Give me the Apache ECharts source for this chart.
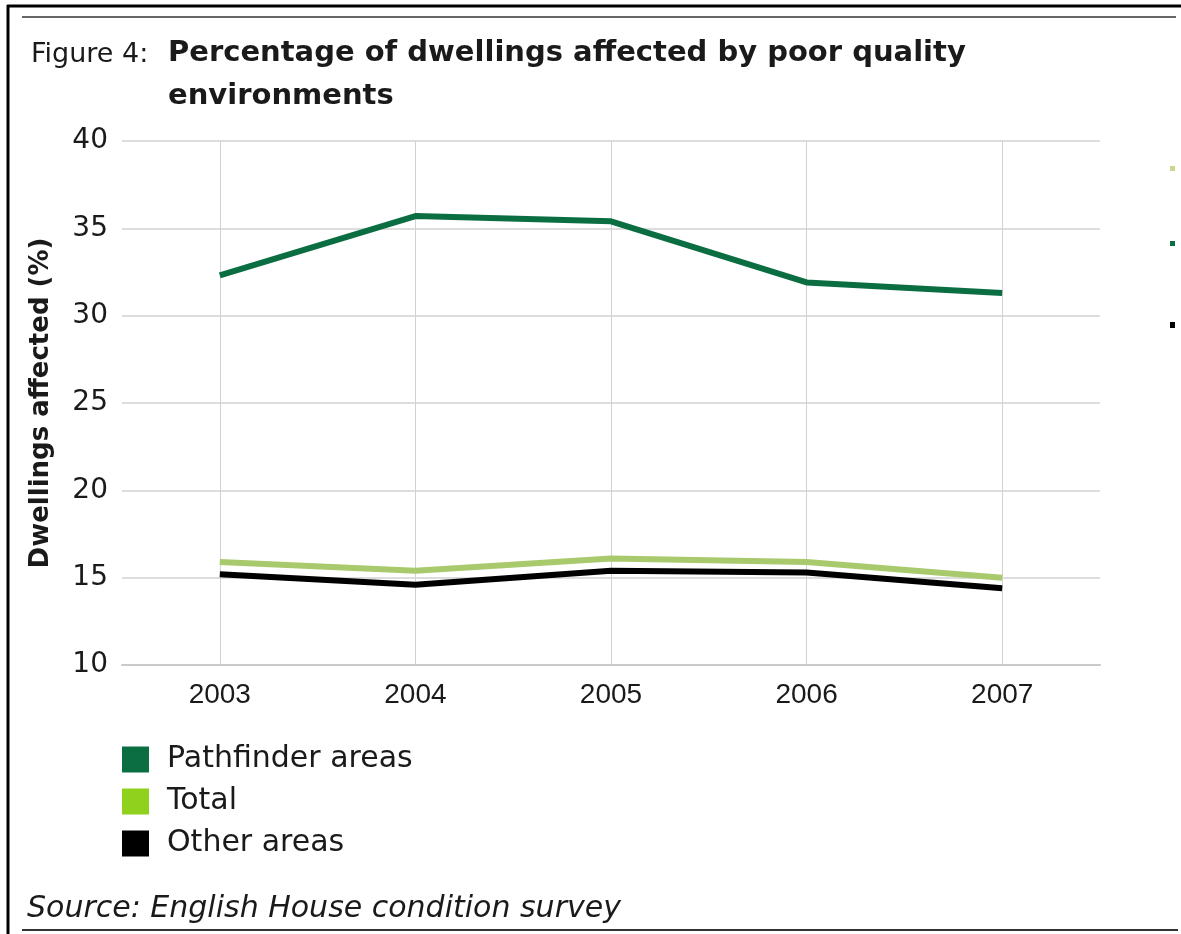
<!DOCTYPE html>
<html>
<head>
<meta charset="utf-8">
<title>Percentage of dwellings affected by poor quality environments</title>
<script src="https://cdn.jsdelivr.net/npm/echarts@6/dist/echarts.min.js"></script>
<style>
  html, body { margin: 0; padding: 0; background: #ffffff; }
  #chart { width: 1181px; height: 934px; }
</style>
</head>
<body>
<div id="chart"></div>
<script>
// Survey years on the category axis
const years = ['2003', '2004', '2005', '2006', '2007'];

// Percentage of dwellings affected, by area type
const pathfinderAreas = [32.3, 35.7, 35.4, 31.9, 31.3];
const totalAll = [15.9, 15.4, 16.1, 15.9, 15.0];
const otherAreas = [15.2, 14.6, 15.4, 15.3, 14.4];

// Value axis ticks
const yMin = 10;
const yMax = 40;
const yStep = 5;

const WIDE = '"DejaVu Sans", Verdana, sans-serif';
const FONT = '"Liberation Sans", Arial, Helvetica, sans-serif';

const chart = echarts.init(document.getElementById('chart'), null, { renderer: 'canvas' });

const option = {
  backgroundColor: '#ffffff',
  animation: false,
  title: [
    {
      text: 'Figure 4:',
      left: 26,
      top: 28,
      textStyle: { fontFamily: WIDE, fontSize: 27, fontWeight: 'normal', color: '#1a1a1a', lineHeight: 43 }
    },
    {
      text: 'Percentage of dwellings affected by poor quality\nenvironments',
      left: 163,
      top: 27,
      textStyle: { fontFamily: WIDE, fontSize: 29, fontWeight: 'bold', color: '#1a1a1a', lineHeight: 43 }
    }
  ],
  legend: {
    orient: 'vertical',
    left: 117,
    top: 737,
    icon: 'rect',
    itemWidth: 27,
    itemHeight: 26,
    itemGap: 7,
    data: ['Pathfinder areas', 'Total', 'Other areas'],
    textStyle: { fontFamily: WIDE, fontSize: 30, lineHeight: 35, color: '#1a1a1a', padding: [0, 0, 0, 13] }
  },
  grid: { left: 122, right: 81, top: 141, bottom: 269, containLabel: false },
  xAxis: {
    type: 'category',
    data: years,
    boundaryGap: true,
    axisLine: { show: true, lineStyle: { color: '#c9c9c9', width: 2 } },
    axisTick: {
      show: true,
      alignWithLabel: true,
      inside: true,
      length: 524,
      lineStyle: { color: '#d2d2d2', width: 1 }
    },
    splitLine: { show: false },
    axisLabel: { fontFamily: FONT, fontSize: 28, color: '#1a1a1a', margin: 16 }
  },
  yAxis: {
    type: 'value',
    min: yMin,
    max: yMax,
    interval: yStep,
    name: 'Dwellings affected (%)',
    nameLocation: 'middle',
    nameGap: 68,
    nameTextStyle: { fontFamily: WIDE, fontSize: 26, fontWeight: 'bold', color: '#1a1a1a' },
    axisLine: { show: false },
    axisTick: { show: false },
    axisLabel: { fontFamily: WIDE, fontSize: 28, color: '#1a1a1a', margin: 14 },
    splitLine: { show: true, lineStyle: { color: '#d2d2d2', width: 1.5 } }
  },
  series: [
    {
      name: 'Pathfinder areas',
      type: 'line',
      data: pathfinderAreas,
      showSymbol: false,
      symbol: 'none',
      itemStyle: { color: '#0b6e42' },
      lineStyle: { color: '#0b6e42', width: 6 },
      z: 3
    },
    {
      name: 'Total',
      type: 'line',
      data: totalAll,
      showSymbol: false,
      symbol: 'none',
      itemStyle: { color: '#8fd11c' },
      lineStyle: { color: '#a8c96c', width: 6 },
      z: 3
    },
    {
      name: 'Other areas',
      type: 'line',
      data: otherAreas,
      showSymbol: false,
      symbol: 'none',
      itemStyle: { color: '#000000' },
      lineStyle: { color: '#000000', width: 6 },
      z: 4
    }
  ],
  graphic: [
    // page frame
    { type: 'line', shape: { x1: 7, y1: 6, x2: 1181, y2: 6 }, style: { stroke: '#000', lineWidth: 3 } },
    { type: 'line', shape: { x1: 8, y1: 5, x2: 8, y2: 934 }, style: { stroke: '#000', lineWidth: 3 } },
    { type: 'line', shape: { x1: 22, y1: 17, x2: 1176, y2: 17 }, style: { stroke: '#333', lineWidth: 1.5 } },
    { type: 'line', shape: { x1: 22, y1: 930, x2: 1178, y2: 930 }, style: { stroke: '#333', lineWidth: 2 } },
    // clipped legend keys at the right edge
    { type: 'rect', shape: { x: 1170, y: 166, width: 5, height: 5 }, style: { fill: '#c9d88c' } },
    { type: 'rect', shape: { x: 1170, y: 241, width: 5, height: 5 }, style: { fill: '#0b6e42' } },
    { type: 'rect', shape: { x: 1170, y: 322, width: 5, height: 6 }, style: { fill: '#000' } },
    // source note
    {
      type: 'text',
      left: 27,
      top: 894,
      style: {
        text: 'Source: English House condition survey',
        font: 'oblique 30px ' + WIDE,
        fill: '#1a1a1a'
      }
    }
  ]
};

chart.setOption(option);
</script>
</body>
</html>
